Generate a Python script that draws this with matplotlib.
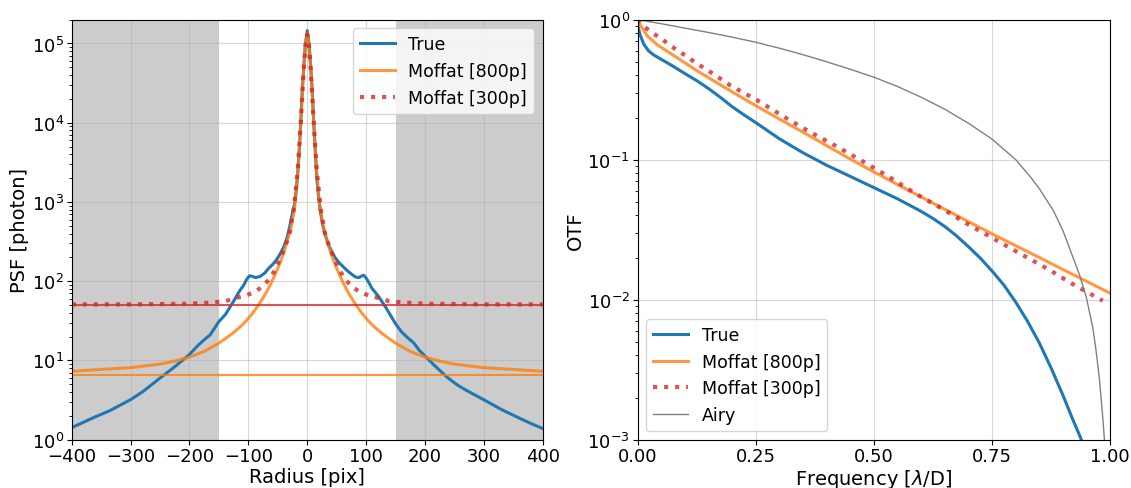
import numpy as np
import matplotlib
matplotlib.use("Agg")
import matplotlib.pyplot as plt

plt.rcParams["font.size"] = 13
plt.rcParams["legend.fontsize"] = 12.5
plt.rcParams["axes.labelsize"] = 14
plt.rcParams["xtick.major.pad"] = 2
plt.rcParams["ytick.major.pad"] = 2

# ---- PSF profiles (radius in pix, value in photon) ----
r_true = [-400, -380, -363, -335, -300, -278, -250, -227, -200, -187, -176, -165, -150, -139,
          -125, -115, -108, -103, -98, -93, -88, -80, -72, -66, -58, -51, -45, -40, -35, -32,
          -29, -26, -23.5, -21, -19, -17, -14, -11, -8.5, -6, -3,
          0, 3, 6, 8.5, 11, 14, 16.5, 19, 22, 26, 31, 36, 42, 47, 53, 60, 67.5, 75, 82, 88,
          93, 96, 100, 105, 110, 120, 127, 134, 141, 150, 160, 170, 181, 190, 203, 220, 238,
          255, 270, 303, 330, 357, 380, 400]
psf_true = [1.42, 1.66, 1.9, 2.33, 3.2, 4.1, 6.0, 8.1, 11.9, 15.1, 18, 21, 31, 38,
            56, 75, 89, 105, 117, 115, 111, 115, 127, 144, 165, 192, 228, 270, 340, 415,
            520, 670, 820, 1000, 1350, 1900, 4000, 1.0e4, 2.5e4, 5.0e4, 1.0e5,
            1.45e5, 1.0e5, 5.0e4, 2.5e4, 1.0e4, 4000, 1900, 1200, 800, 520, 376, 290, 233, 200,
            175, 155, 137, 123, 113, 111, 117, 119, 110, 95, 81, 66, 55, 46, 37.6, 29, 23,
            19.5, 16.6, 13.5, 10.8, 8.1, 6.1, 4.9, 4.2, 3.1, 2.4, 1.92, 1.6, 1.38]

r_mof = [0, 3, 6, 8.5, 11, 14, 16, 19, 22, 27, 33, 39, 45, 50, 56, 61, 67, 73, 80, 86, 93,
         103, 113, 127, 140, 152, 175, 200, 225, 250, 300, 350, 400]
psf_mof800 = [1.35e5, 1.0e5, 4.8e4, 2.4e4, 1.0e4, 4000, 2400, 1300, 794, 501, 339, 240, 180,
              145, 115, 95.5, 78.5, 65.3, 53.7, 46.2, 39.4, 32, 26.9, 21.9, 18.6, 16.2, 13.0,
              11.0, 9.8, 9.0, 8.1, 7.7, 7.3]

r_mof3 = [0, 3, 6, 11, 16, 20, 23, 26, 29, 34, 40, 47, 54, 63, 74, 88, 104, 119, 139, 166, 200,
          300, 400]
psf_mof300 = [1.3e5, 9.5e4, 4.6e4, 1.0e4, 2600, 1300, 800, 610, 430, 325, 245, 187, 141, 110,
              88, 74, 66, 62, 56, 53.7, 52, 51, 51]

bg_800 = 6.5
bg_300 = 50

# ---- OTF profiles (frequency in lambda/D) ----
f_true = [0, 0.002, 0.006, 0.013, 0.023, 0.034, 0.05, 0.075, 0.1, 0.125, 0.15, 0.175, 0.2,
          0.225, 0.25, 0.3, 0.35, 0.4, 0.45, 0.5, 0.55, 0.6, 0.625, 0.65, 0.675, 0.7, 0.725,
          0.75, 0.775, 0.8, 0.825, 0.85, 0.875, 0.9, 0.92, 0.94, 0.95]
otf_true = [1.0, 0.86, 0.77, 0.67, 0.60, 0.56, 0.521, 0.465, 0.412, 0.367, 0.322, 0.279, 0.239,
            0.209, 0.184, 0.141, 0.112, 0.0912, 0.0759, 0.0631, 0.0525, 0.0427, 0.0380,
            0.0333, 0.0285, 0.0239, 0.0198, 0.0160, 0.0127, 0.0096, 0.0070, 0.0049, 0.00324,
            0.00207, 0.00141, 0.00098, 0.00081]

f_m800 = [0, 0.005, 0.02, 0.04, 0.055, 0.09, 0.125, 0.15, 0.2, 0.25, 0.3, 0.35, 0.4, 0.45, 0.5,
          0.55, 0.6, 0.65, 0.7, 0.75, 0.8, 0.85, 0.9, 0.95, 1.0]
otf_m800 = [1.0, 0.923, 0.769, 0.668, 0.618, 0.518, 0.433, 0.385, 0.305, 0.243, 0.195, 0.157,
            0.126, 0.101, 0.0817, 0.0664, 0.0541, 0.0442, 0.0361, 0.0295, 0.0243, 0.0200,
            0.0164, 0.0135, 0.0111]

f_m300 = [0, 0.016, 0.035, 0.053, 0.070, 0.089, 0.124, 0.16, 0.197, 0.252, 0.308, 0.364, 0.42,
          0.477, 0.533, 0.589, 0.645, 0.701, 0.757, 0.814, 0.870, 0.926, 0.984]
otf_m300 = [1.0, 0.88, 0.79, 0.72, 0.65, 0.59, 0.49, 0.41, 0.338, 0.267, 0.204, 0.158, 0.125,
            0.097, 0.075, 0.0569, 0.0445, 0.0342, 0.0268, 0.0209, 0.0164, 0.0126, 0.00984]

f_airy = [0, 0.05, 0.1, 0.15, 0.2, 0.25, 0.3, 0.35, 0.4, 0.45, 0.5, 0.55, 0.6, 0.65, 0.7,
          0.75, 0.8, 0.83, 0.85, 0.88, 0.9, 0.92, 0.935, 0.949, 0.963, 0.97, 0.977, 0.984,
          0.988, 0.992]
otf_airy = [1.0, 0.935, 0.87, 0.81, 0.75, 0.69, 0.625, 0.562, 0.50, 0.442, 0.388, 0.333,
            0.279, 0.229, 0.182, 0.140, 0.100, 0.076, 0.062, 0.043, 0.031, 0.0205, 0.0150,
            0.0105, 0.0063, 0.0043, 0.0027, 0.00145, 0.00095, 0.0005]

# mirror the symmetric moffat profiles
r800 = np.concatenate([-np.array(r_mof[::-1]), r_mof[1:]])
p800 = np.concatenate([psf_mof800[::-1], psf_mof800[1:]])
r300 = np.concatenate([-np.array(r_mof3[::-1]), r_mof3[1:]])
p300 = np.concatenate([psf_mof300[::-1], psf_mof300[1:]])

fig = plt.figure(figsize=(11.31, 4.89), dpi=100)
ax1 = fig.add_axes([0.0634, 0.0988, 0.4165, 0.8590])
ax2 = fig.add_axes([0.5637, 0.0988, 0.4180, 0.8590])

ax1.axvspan(-400, -150, color="k", alpha=0.2, lw=0)
ax1.axvspan(150, 400, color="k", alpha=0.2, lw=0)
ax1.plot(r_true, psf_true, color="C0", lw=2.2, label="True")
ax1.plot(r800, p800, color="C1", lw=2.2, alpha=0.8, label="Moffat [800p]")
ax1.plot(r300, p300, color="C3", lw=3, ls=":", alpha=0.8, label="Moffat [300p]")
ax1.axhline(bg_800, color="C1", lw=1.5, alpha=0.8)
ax1.axhline(bg_300, color="C3", lw=1.5, alpha=0.8)
ax1.set_yscale("log")
ax1.set_xlim(-400, 400)
ax1.set_ylim(1, 2e5)
ax1.set_xticks(np.arange(-400, 401, 100))
ax1.grid(True, alpha=0.5)
ax1.set_xlabel("Radius [pix]", labelpad=1)
ax1.set_ylabel("PSF [photon]", labelpad=2)
ax1.legend(loc="upper right")

ax2.plot(f_true, otf_true, color="C0", lw=2.2, label="True")
ax2.plot(f_m800, otf_m800, color="C1", lw=2.2, alpha=0.8, label="Moffat [800p]")
ax2.plot(f_m300, otf_m300, color="C3", lw=3, ls=":", alpha=0.8, label="Moffat [300p]")
ax2.plot(f_airy, otf_airy, color="gray", lw=1, label="Airy")
ax2.set_yscale("log")
ax2.set_xlim(0, 1)
ax2.set_ylim(1e-3, 1)
ax2.set_xticks([0, 0.25, 0.5, 0.75, 1.0])
ax2.grid(True, alpha=0.5)
ax2.set_xlabel(r"Frequency [$\lambda$/D]", labelpad=1)
ax2.set_ylabel("OTF", labelpad=2)
ax2.legend(loc="lower left")

fig.savefig("out.png", dpi=100)
